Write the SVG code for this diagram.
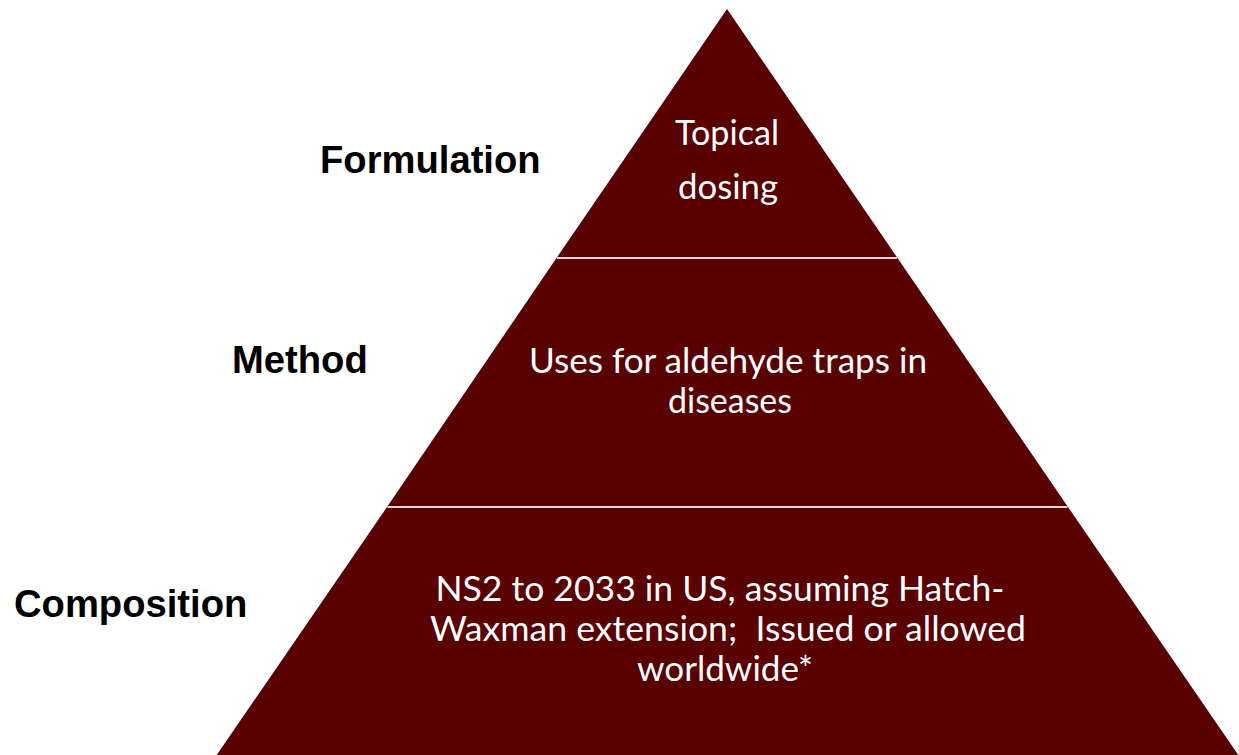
<svg xmlns="http://www.w3.org/2000/svg" width="1239" height="755" viewBox="0 0 1239 755">
  <style>
    .tier { fill: #590000; }
    .divider { stroke: #ecd2d2; stroke-width: 2; fill: none; }
    .label { font-family: "Liberation Sans", Arial, sans-serif; font-weight: bold; font-size: 38.2px; fill: #000000; }
    .body { font-family: Lato, "Open Sans", "Liberation Sans", sans-serif; font-size: 34px; fill: #ffffff; text-anchor: middle; white-space: pre; }
  </style>
  <rect width="1239" height="755" fill="#ffffff"/>

  <!-- top tier: formulation -->
  <g id="tier-formulation">
    <polygon class="tier" points="727,9 897.5,258 556.5,258"/>
    <text class="body" x="727" y="145" textLength="104" lengthAdjust="spacingAndGlyphs">Topical</text>
    <text class="body" x="728" y="199" textLength="100" lengthAdjust="spacingAndGlyphs">dosing</text>
  </g>

  <!-- middle tier: method -->
  <g id="tier-method">
    <polygon class="tier" points="556.5,258 897.5,258 1068,507 387,507"/>
    <text class="body" x="728" y="373" textLength="398" lengthAdjust="spacingAndGlyphs">Uses for aldehyde traps in</text>
    <text class="body" x="730" y="413" textLength="124" lengthAdjust="spacingAndGlyphs">diseases</text>
  </g>

  <!-- bottom tier: composition -->
  <g id="tier-composition">
    <polygon class="tier" points="387,507 1068,507 1239,756 216,756"/>
    <text class="body" x="720" y="601" textLength="569" lengthAdjust="spacingAndGlyphs">NS2 to 2033 in US, assuming Hatch-</text>
    <text class="body" x="728" y="641" textLength="596" lengthAdjust="spacingAndGlyphs">Waxman extension;  Issued or allowed</text>
    <text class="body" x="725" y="681" textLength="176" lengthAdjust="spacingAndGlyphs">worldwide*</text>
  </g>

  <!-- white separators between tiers -->
  <g id="connectors">
    <line class="divider" x1="557" y1="258" x2="897" y2="258"/>
    <line class="divider" x1="387.5" y1="507" x2="1067.5" y2="507"/>
  </g>

  <!-- level labels at the left -->
  <g id="label-formulation"><text class="label" x="320" y="173">Formulation</text></g>
  <g id="label-method"><text class="label" x="232" y="373">Method</text></g>
  <g id="label-composition"><text class="label" x="14" y="617">Composition</text></g>
</svg>
